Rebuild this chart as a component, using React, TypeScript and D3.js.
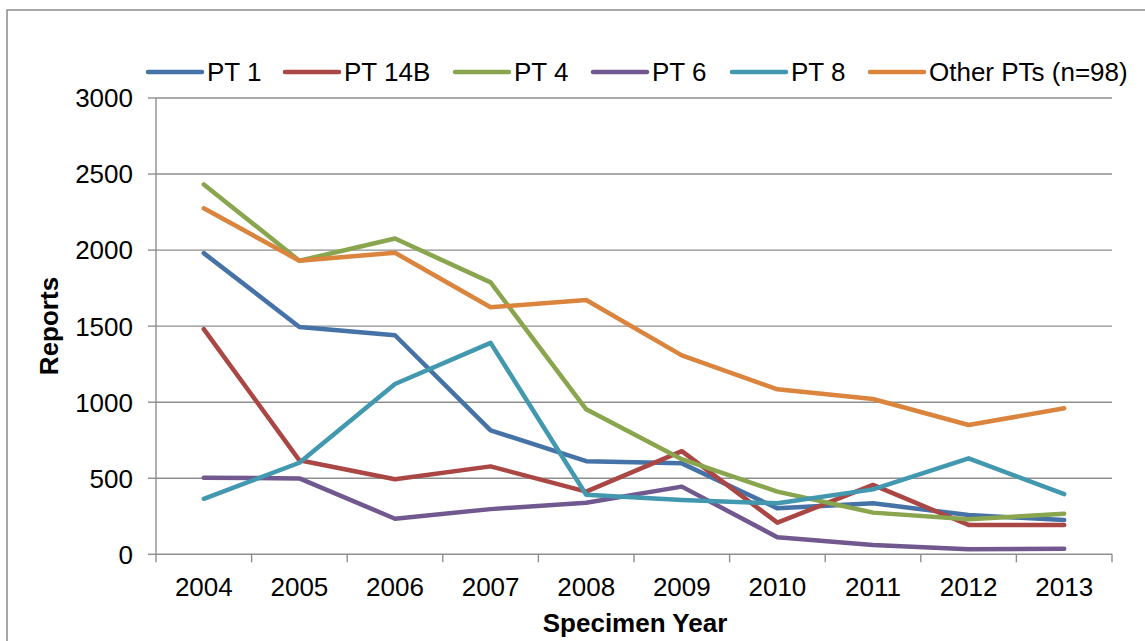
import React from "react";
import * as d3 from "d3";

const years = ["2004", "2005", "2006", "2007", "2008", "2009", "2010", "2011", "2012", "2013"];
const pt1 = [1980, 1495, 1440, 815, 612, 598, 302, 335, 258, 225];
const pt14b = [1480, 618, 493, 578, 412, 678, 208, 456, 193, 193];
const pt4 = [2432, 1930, 2076, 1788, 953, 625, 412, 274, 230, 267];
const pt6 = [504, 499, 234, 297, 339, 445, 112, 61, 33, 37];
const pt8 = [365, 602, 1120, 1390, 392, 357, 335, 427, 631, 396];
const otherPTs = [2275, 1930, 1983, 1624, 1672, 1308, 1085, 1021, 850, 960];
const seriesNames = ["PT 1", "PT 14B", "PT 4", "PT 6", "PT 8", "Other PTs (n=98)"];
const seriesValues = [pt1, pt14b, pt4, pt6, pt8, otherPTs];
const seriesColors = ["#4572A7", "#AA4643", "#89A54E", "#71588F", "#4198AF", "#DB843D"];
const yTicks = [0, 500, 1000, 1500, 2000, 2500, 3000];

const W = 1145;
const H = 641;
const left = 156;
const right = 1112;
const top = 98;
const bottom = 554.3;
const font = "Arial, 'Liberation Sans', sans-serif";
const grid = "#8e8e8e";

export default function App() {
  const x = d3.scaleBand<string>().domain(years).range([left, right]);
  const y = d3.scaleLinear().domain([0, 3000]).range([bottom, top]);
  const cx = (d: string) => (x(d) as number) + x.bandwidth() / 2;
  const line = d3
    .line<number>()
    .x((_, i) => cx(years[i]))
    .y((v) => y(v));
  const boundaries = years.map((d) => x(d) as number).concat([right]);
  const legendX = [148, 285, 455, 593, 732, 870];

  return (
    <svg
      width={W}
      height={H}
      style={{ position: "absolute", left: 0, top: 0, background: "#fff" }}
      fontFamily={font}
    >
      <rect x={0} y={0} width={W} height={H} fill="#fff" />
      <rect x={7} y={10} width={W + 10} height={H + 10} fill="none" stroke="#8a8a8a" strokeWidth={1.5} />
      {yTicks.map((t) => (
        <g key={t}>
          {t > 0 && <line x1={left} x2={right} y1={y(t)} y2={y(t)} stroke={grid} strokeWidth={1.4} />}
          <line x1={148} x2={left} y1={y(t)} y2={y(t)} stroke={grid} strokeWidth={1.4} />
          <text x={133} y={y(t)} dy="0.36em" textAnchor="end" fontSize={26} fill="#000">
            {t}
          </text>
        </g>
      ))}
      <line x1={left} x2={left} y1={top} y2={bottom} stroke={grid} strokeWidth={1.4} />
      <line x1={left} x2={right} y1={bottom} y2={bottom} stroke={grid} strokeWidth={1.4} />
      {boundaries.map((b, i) => (
        <line key={i} x1={b} x2={b} y1={bottom} y2={bottom + 8} stroke={grid} strokeWidth={1.4} />
      ))}
      {years.map((yr) => (
        <text key={yr} x={cx(yr)} y={596} textAnchor="middle" fontSize={26} fill="#000">
          {yr}
        </text>
      ))}
      {seriesValues.map((vals, i) => (
        <path
          key={seriesNames[i]}
          d={line(vals) as string}
          fill="none"
          stroke={seriesColors[i]}
          strokeWidth={4.5}
          strokeLinejoin="round"
          strokeLinecap="round"
        />
      ))}
      {seriesNames.map((name, i) => (
        <g key={name}>
          <line
            x1={legendX[i]}
            x2={legendX[i] + 54}
            y1={72}
            y2={72}
            stroke={seriesColors[i]}
            strokeWidth={4.5}
            strokeLinecap="round"
          />
          <text x={legendX[i] + 59} y={72} dy="0.36em" fontSize={26} fill="#000">
            {name}
          </text>
        </g>
      ))}
      <text
        transform={`translate(58,326) rotate(-90)`}
        textAnchor="middle"
        fontSize={26}
        fontWeight="bold"
        fill="#000"
      >
        Reports
      </text>
      <text x={635} y={632} textAnchor="middle" fontSize={26} fontWeight="bold" fill="#000">
        Specimen Year
      </text>
    </svg>
  );
}
